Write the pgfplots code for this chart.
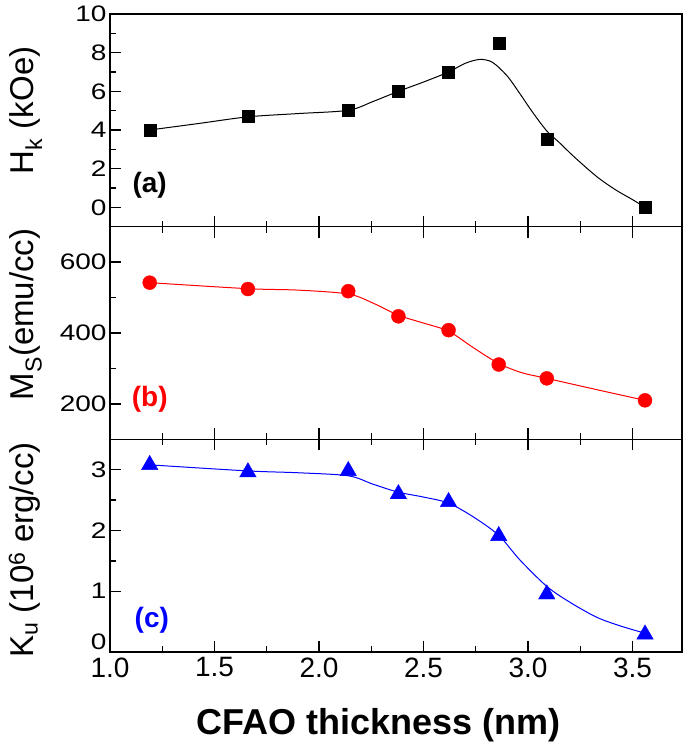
\documentclass[border=0pt]{standalone}
\usepackage{fontspec}
\setmainfont{Liberation Sans}
\usepackage{graphicx}
\usepackage{pgfplots}
\pgfplotsset{compat=1.18}

\definecolor{myred}{RGB}{255,0,0}
\definecolor{myblue}{RGB}{0,0,255}

\pgfplotsset{
  panel/.style={
    scale only axis, width=572bp, height=212.67bp,
    anchor=south west,
    xmin=1.0, xmax=3.737,
    xtick={1.0,1.5,2.0,2.5,3.0,3.5}, minor x tick num=1,
    minor y tick num=1,
    tick align=inside, ytick pos=left,
    major tick length=11bp, minor tick length=6bp,
    axis line style={line width=1.6bp},
    every tick/.style={line width=1.3bp, black},
    tick label style={font=\fontsize{28bp}{30bp}\selectfont},
    /pgf/number format/assume math mode=true,
    yticklabel={\scalebox{1}[0.8]{\pgfmathprintnumber{\tick}}},
    ylabel style={font=\fontsize{33bp}{36bp}\selectfont, anchor=base},
  },
}
\tikzset{pan/.style={font=\fontsize{28bp}{30bp}\selectfont\bfseries}}

\begin{document}
\begin{tikzpicture}
\useasboundingbox (0,0) rectangle (685bp,745bp);

% ---------- panel (a) ----------
\begin{axis}[panel, at={(110bp,518.33bp)},
  ymin=-1, ymax=10, ytick={0,2,4,6,8,10},
  xtick pos=bottom, xticklabels={},
  ylabel={H$_\mathrm{k}$ (kOe)},
  ylabel style={at={(axis description cs:-0.1329,0.547)}},
]
\addplot[black, line width=1bp, smooth, no marks] coordinates {
 (1.19,4.0) (1.42,4.33) (1.66,4.68) (1.90,4.85) (2.14,5.02) (2.26,5.48)
 (2.38,6.0) (2.50,6.48) (2.62,7.0) (2.70,7.45) (2.77,7.65) (2.83,7.5)
 (2.90,6.8) (2.96,5.9) (3.02,4.95) (3.09,3.95) (3.15,3.35) (3.22,2.62)
 (3.33,1.58) (3.42,0.9) (3.50,0.4) (3.56,0.0)};
\addplot[only marks, mark=square*, mark size=6bp, black] coordinates {
 (1.19,4.0) (1.66,4.7) (2.14,5.0) (2.38,6.0) (2.62,7.0) (2.86,8.5) (3.09,3.5) (3.56,0.0)};
\node[pan, black] at (axis cs:1.19,1.14) {(a)};
\end{axis}

% ---------- panel (b) ----------
\begin{axis}[panel, at={(110bp,305.67bp)},
  ymin=100, ymax=700, ytick={200,400,600},
  xtick pos=both, xticklabels={},
  ylabel={M$_\mathrm{S}$(emu/cc)},
  ylabel style={at={(axis description cs:-0.1329,0.587)}},
]
\addplot[myred, line width=1bp, smooth, no marks] coordinates {
 (1.19,542) (1.66,525) (1.90,521) (2.14,510) (2.26,484) (2.38,450)
 (2.50,428) (2.62,405) (2.74,358) (2.86,314) (2.97,288) (3.09,272)
 (3.33,240) (3.56,210)};
\addplot[only marks, mark=*, mark size=7bp, myred] coordinates {
 (1.19,542) (1.66,524) (2.14,518) (2.38,447) (2.62,408) (2.86,311) (3.09,272) (3.56,210)};
\node[pan, myred] at (axis cs:1.19,212) {(b)};
\end{axis}

% ---------- panel (c) ----------
\begin{axis}[panel, at={(110bp,93bp)},
  ymin=0, ymax=3.5, ytick={1,2,3},
  extra y ticks={0},
  extra y tick style={yticklabel style={yshift=10bp}},
  xtick pos=both,
  xticklabel style={yshift=-2bp, /pgf/number format/.cd, fixed, fixed zerofill, precision=1},
  ylabel={K$_\mathrm{u}$ (10$^\mathrm{6}$ erg/cc)},
  ylabel style={at={(axis description cs:-0.1329,0.48)}},
  xlabel={CFAO thickness (nm)},
  xlabel style={font=\fontsize{36bp}{40bp}\selectfont\bfseries, at={(axis description cs:0.47,-0.39)}, anchor=base},
]
\addplot[myblue, line width=1bp, smooth, no marks] coordinates {
 (1.19,3.08) (1.66,2.98) (1.90,2.95) (2.14,2.90) (2.26,2.76) (2.38,2.63)
 (2.50,2.55) (2.62,2.45) (2.74,2.22) (2.86,1.92) (2.96,1.52) (3.09,1.08)
 (3.20,0.82) (3.33,0.57) (3.45,0.42) (3.56,0.31)};
\addplot[only marks, mark=triangle*, mark size=9.5bp, myblue] coordinates {
 (1.19,3.08) (1.66,2.96) (2.14,2.98) (2.38,2.60) (2.62,2.47) (2.86,1.91) (3.09,0.95) (3.56,0.29)};
\node[pan, myblue] at (axis cs:1.2,0.53) {(c)};
\end{axis}
\end{tikzpicture}
\end{document}
